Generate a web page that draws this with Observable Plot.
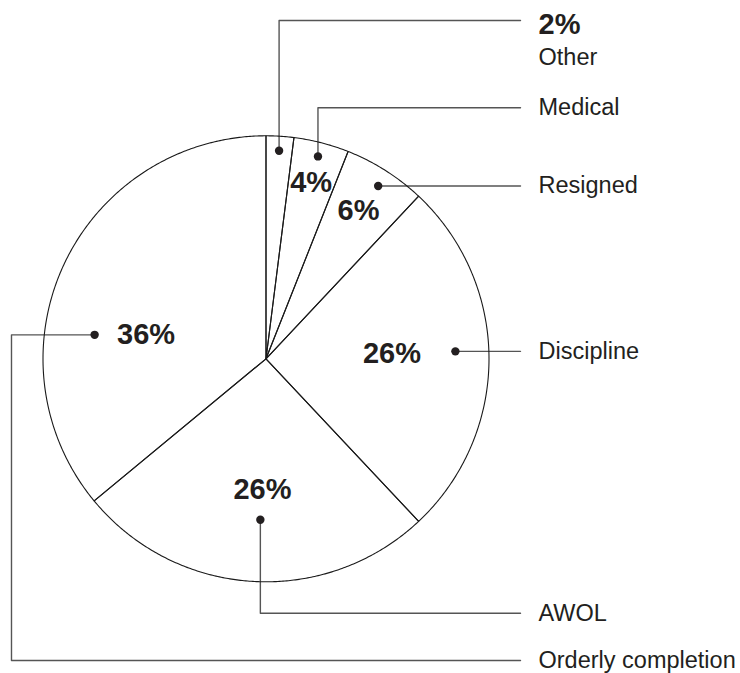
<!DOCTYPE html>
<html><head><meta charset="utf-8">
<script src="https://cdn.jsdelivr.net/npm/d3@7"></script>
<script src="https://cdn.jsdelivr.net/npm/@observablehq/plot@0.6"></script>
<style>html,body{margin:0;padding:0;background:#fff}#chart svg{display:block}</style>
</head><body><div id="chart"></div>
<script>
// ---- data ----
const categories = ["Other", "Medical", "Resigned", "Discipline", "AWOL", "Orderly completion"];
const values = [2, 4, 6, 26, 26, 36];
const percentLabels = ["2%", "4%", "6%", "26%", "26%", "36%"];

// ---- layout (pie-radius units, pie centre at 0,0, y up) ----
const W = 740, H = 673, CX = 265.5, CY = 358.3, R = 223;
const anchorT = [0.5, 0.5, 0.527, 0.476, 0.483, 0.367];     // position along slice angle
const anchorR = [0.935, 0.937, 0.924, 0.85, 0.722, 0.776];  // radius of leader dot
const pctT = [null, 0.5, 0.48, 0.476, 0.478, 0.394];        // inner % label angle
const pctR = [null, 0.814, 0.784, 0.565, 0.586, 0.549];     // inner % label radius
const route = ["up", "up", "flat", "flat", "down", "around"];
const rowY = [1.517, 1.1256, null, null, -1.1408, -1.353];
const lineEndX = 1.1413, labelX = 1.222, aroundX = -1.1413;
const otherTextY = 1.351, otherPctY = 1.5;

const arcs = d3.pie().sort(null).value(d => d)(values);
const pt = (a, r) => [r * Math.sin(a), r * Math.cos(a)];
const along = (a, t) => a.startAngle + (a.endAngle - a.startAngle) * t;

// slice outlines
const slicePts = [];
arcs.forEach((a, i) => {
  slicePts.push({x: 0, y: 0, k: i});
  const n = Math.max(2, Math.ceil((a.endAngle - a.startAngle) / 0.008));
  for (let j = 0; j <= n; j++) {
    const [x, y] = pt(along(a, j / n), 1);
    slicePts.push({x, y, k: i});
  }
  slicePts.push({x: 0, y: 0, k: i});
});

// leader dots, lines and labels
const dots = [], leaders = [], labels = [], pcts = [];
arcs.forEach((a, i) => {
  const [dx, dy] = pt(along(a, anchorT[i]), anchorR[i]);
  dots.push({x: dx, y: dy});
  let ry;
  const path = [[dx, dy]];
  if (route[i] === "up" || route[i] === "down") {
    ry = rowY[i]; path.push([dx, ry]); path.push([lineEndX, ry]);
  } else if (route[i] === "flat") {
    ry = dy; path.push([lineEndX, ry]);
  } else {
    ry = rowY[i]; path.push([aroundX, dy]); path.push([aroundX, ry]); path.push([lineEndX, ry]);
  }
  path.forEach(([x, y]) => leaders.push({x, y, k: i}));
  if (i === 0) {
    labels.push({x: labelX, y: otherTextY, t: categories[i]});
    pcts.push({x: labelX, y: otherPctY, t: percentLabels[i], anchor: "start"});
  } else {
    labels.push({x: labelX, y: ry, t: categories[i]});
    const [px, py] = pt(along(a, pctT[i]), pctR[i]);
    pcts.push({x: px, y: py, t: percentLabels[i], anchor: "middle"});
  }
});

const ink = "#231f20";
const chart = Plot.plot({
  width: W, height: H, margin: 0,
  x: {domain: [-CX / R, (W - CX) / R], axis: null},
  y: {domain: [-(H - CY) / R, CY / R], axis: null},
  style: {fontFamily: "'Liberation Sans', Arial, Helvetica, sans-serif", background: "#fff"},
  marks: [
    Plot.line(leaders, {x: "x", y: "y", z: "k", stroke: "#555", strokeWidth: 1.4}),
    Plot.line(slicePts, {x: "x", y: "y", z: "k", stroke: "#1a1a1a", strokeWidth: 1.1, fill: "none"}),
    Plot.dot(dots, {x: "x", y: "y", r: 4.2, fill: ink, stroke: null}),
    Plot.text(labels, {x: "x", y: "y", text: "t", textAnchor: "start", fontSize: 23.5, fill: ink}),
    Plot.text(pcts.filter(d => d.anchor === "middle"), {x: "x", y: "y", text: "t", textAnchor: "middle", fontSize: 29, fontWeight: "bold", fill: ink}),
    Plot.text(pcts.filter(d => d.anchor === "start"), {x: "x", y: "y", text: "t", textAnchor: "start", fontSize: 29, fontWeight: "bold", fill: ink})
  ]
});
document.getElementById("chart").appendChild(chart);
</script>
</body></html>
